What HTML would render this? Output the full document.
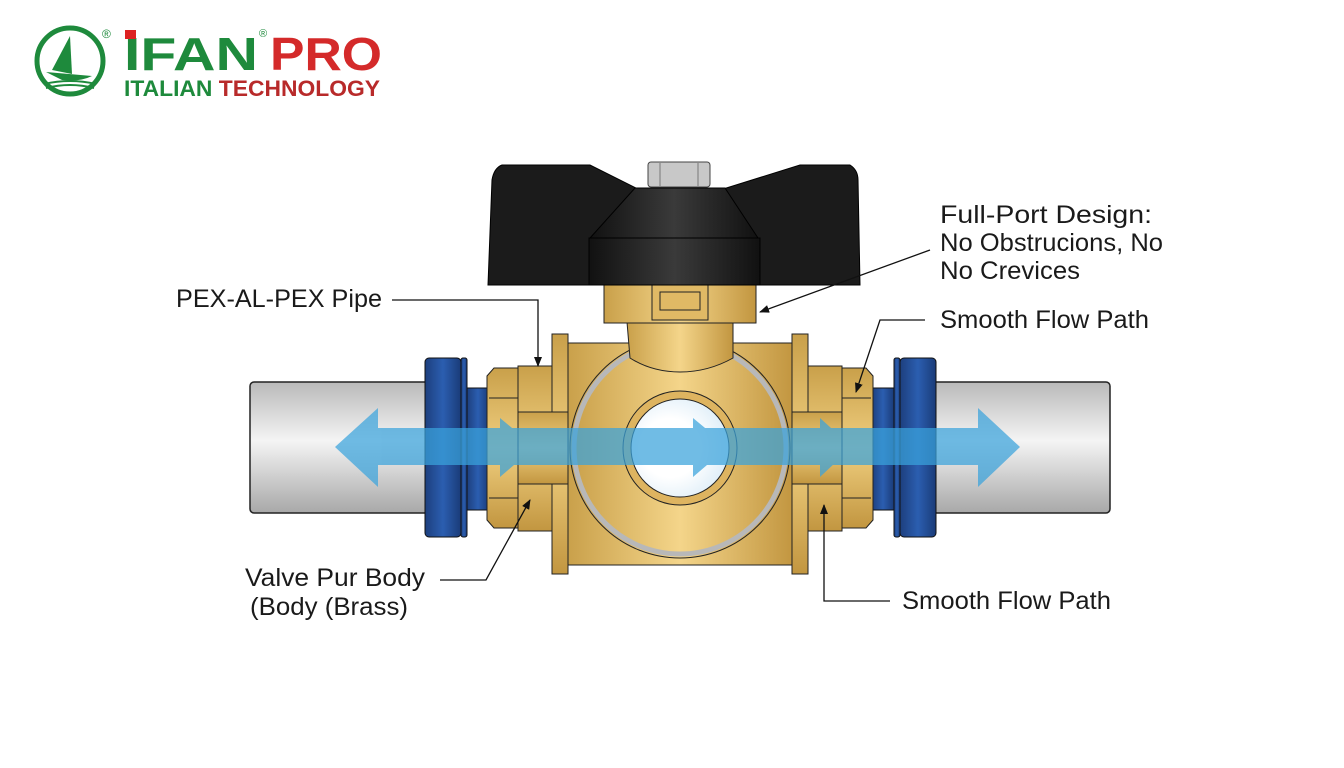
<!DOCTYPE html>
<html><head><meta charset="utf-8"><style>
html,body{margin:0;padding:0;background:#fff;width:1344px;height:768px;overflow:hidden}
svg{display:block}
text{font-family:"Liberation Sans",Arial,sans-serif}
</style></head><body>
<svg width="1344" height="768" viewBox="0 0 1344 768" xmlns="http://www.w3.org/2000/svg">
<defs>
<linearGradient id="pipe" x1="0" y1="0" x2="0" y2="1">
<stop offset="0" stop-color="#b9b9b9"/><stop offset="0.45" stop-color="#f4f4f4"/><stop offset="1" stop-color="#a8a8a8"/></linearGradient>
<linearGradient id="blue" x1="0" y1="0" x2="1" y2="0">
<stop offset="0" stop-color="#1d3f7e"/><stop offset="0.5" stop-color="#2b5eb0"/><stop offset="1" stop-color="#1a3b78"/></linearGradient>
<linearGradient id="brass" x1="0" y1="0" x2="0" y2="1">
<stop offset="0" stop-color="#c9a04a"/><stop offset="0.5" stop-color="#f0cf80"/><stop offset="1" stop-color="#c29640"/></linearGradient>
<linearGradient id="brassH" x1="0" y1="0" x2="1" y2="0">
<stop offset="0" stop-color="#c9a04a"/><stop offset="0.5" stop-color="#f4d58a"/><stop offset="1" stop-color="#c29640"/></linearGradient>
<linearGradient id="knob" x1="0" y1="0" x2="1" y2="0">
<stop offset="0" stop-color="#111"/><stop offset="0.5" stop-color="#3a3a3a"/><stop offset="1" stop-color="#111"/></linearGradient>
<radialGradient id="hole" cx="0.4" cy="0.5" r="0.6"><stop offset="0.5" stop-color="#fff"/><stop offset="1" stop-color="#dfeef8"/></radialGradient>
<marker id="ah" markerWidth="10" markerHeight="8" refX="9" refY="4" orient="auto" markerUnits="userSpaceOnUse"><path d="M0,0 L10,4 L0,8 Z" fill="#111"/></marker>
</defs>

<!-- logo -->
<circle cx="70" cy="61" r="33" fill="none" stroke="#1e8a3c" stroke-width="5"/>
<path d="M70,36 L72,74 L52,70 Z" fill="#1e8a3c"/>
<path d="M46,72 L92,76 Q80,82 62,80 Z" fill="#1e8a3c"/>
<path d="M44,84 Q70,78 96,84 M46,88 Q70,82 94,88" stroke="#1e8a3c" stroke-width="2" fill="none"/>
<text x="102" y="38" font-size="12" fill="#1e8a3c">®</text>
<text x="124" y="70" font-size="46" font-weight="bold" fill="#1e8a3c" textLength="134" lengthAdjust="spacingAndGlyphs">IFAN</text>
<rect x="125" y="30" width="11" height="9" fill="#d22"/>
<text x="259" y="37" font-size="11" fill="#1e8a3c">®</text>
<text x="270" y="70" font-size="46" font-weight="bold" fill="#d42a2a" textLength="112" lengthAdjust="spacingAndGlyphs">PRO</text>
<text x="124" y="96" font-size="22" font-weight="bold" fill="#1e8a3c" textLength="256" lengthAdjust="spacingAndGlyphs">ITALIAN <tspan fill="#b82a2a">TECHNOLOGY</tspan></text>

<!-- pipes -->
<rect x="250" y="382" width="180" height="131" rx="4" fill="url(#pipe)" stroke="#222" stroke-width="1.5"/>
<rect x="932" y="382" width="178" height="131" rx="4" fill="url(#pipe)" stroke="#222" stroke-width="1.5"/>
<!-- blue nuts -->
<rect x="425" y="358" width="36" height="179" rx="4" fill="url(#blue)" stroke="#111"/>
<rect x="461" y="358" width="6" height="179" rx="2" fill="url(#blue)" stroke="#111"/>
<rect x="467" y="388" width="22" height="122" fill="url(#blue)" stroke="#111"/>
<rect x="900" y="358" width="36" height="179" rx="4" fill="url(#blue)" stroke="#111"/>
<rect x="894" y="358" width="6" height="179" rx="2" fill="url(#blue)" stroke="#111"/>
<rect x="872" y="388" width="22" height="122" fill="url(#blue)" stroke="#111"/>

<!-- fittings -->
<path d="M494,368 L518,368 L518,528 L494,528 L487,520 L487,376 Z" fill="url(#brass)" stroke="#222"/>
<line x1="489" y1="398" x2="518" y2="398" stroke="#222"/><line x1="489" y1="498" x2="518" y2="498" stroke="#222"/>
<rect x="518" y="366" width="34" height="165" fill="url(#brass)" stroke="#222"/>
<path d="M866,368 L842,368 L842,528 L866,528 L873,520 L873,376 Z" fill="url(#brass)" stroke="#222"/>
<line x1="842" y1="398" x2="871" y2="398" stroke="#222"/><line x1="842" y1="498" x2="871" y2="498" stroke="#222"/>
<rect x="808" y="366" width="34" height="165" fill="url(#brass)" stroke="#222"/>

<!-- body -->
<rect x="567" y="343" width="226" height="222" fill="url(#brassH)" stroke="#222"/>
<rect x="552" y="334" width="16" height="240" fill="url(#brass)" stroke="#222"/>
<rect x="792" y="334" width="16" height="240" fill="url(#brass)" stroke="#222"/>
<rect x="518" y="412" width="50" height="72" fill="url(#brass)" stroke="#222"/>
<rect x="792" y="412" width="50" height="72" fill="url(#brass)" stroke="#222"/>
<circle cx="680" cy="448" r="110" fill="url(#brassH)" stroke="#222"/>
<circle cx="680" cy="448" r="106" fill="none" stroke="#b8b8b8" stroke-width="5"/>
<!-- neck -->
<path d="M627,322 L733,322 L733,358 Q708,372 680,372 Q652,372 630,358 Z" fill="url(#brassH)" stroke="#222"/>
<rect x="604" y="285" width="152" height="38" fill="url(#brassH)" stroke="#222"/>
<path d="M652,285 L708,285 L708,320 L652,320 Z M660,292 L700,292 L700,310 L660,310 Z" fill="#e0b965" stroke="#222"/>
<circle cx="680" cy="448" r="57" fill="#deb460" stroke="#222"/>
<circle cx="680" cy="448" r="49" fill="url(#hole)" stroke="#222"/>

<!-- handle -->
<path d="M502,165 L590,165 L640,190 L720,190 L800,165 L850,165 Q858,170 858,180 L860,285 L488,285 L492,180 Q494,168 502,165 Z" fill="#1b1b1b" stroke="#000"/>
<path d="M635,188 L725,188 L758,238 L590,238 Z" fill="url(#knob)" stroke="#000"/>
<rect x="589" y="238" width="171" height="47" fill="url(#knob)" stroke="#000"/>
<rect x="648" y="162" width="62" height="25" rx="3" fill="#c8c8c8" stroke="#444"/>
<line x1="660" y1="163" x2="660" y2="186" stroke="#777"/><line x1="698" y1="163" x2="698" y2="186" stroke="#777"/>

<!-- flow -->
<g fill="#3aa3dc" opacity="0.72">
<path d="M335,447 L378,408 L378,428 L980,428 L980,465 L378,465 L378,487 Z"/>
<path d="M978,408 L1020,447 L978,487 Z"/>
<path d="M693,418 L728,447 L693,477 Z"/>
<path d="M820,418 L852,447 L820,477 Z"/>
<path d="M500,418 L535,447 L500,477 Z"/>
</g>

<!-- leaders -->
<g stroke="#111" stroke-width="1.3" fill="none">
<polyline points="392,300 538,300 538,366" marker-end="url(#ah)"/>
<line x1="930" y1="250" x2="760" y2="312" marker-end="url(#ah)"/>
<polyline points="925,320 880,320 856,392" marker-end="url(#ah)"/>
<polyline points="440,580 486,580 530,500" marker-end="url(#ah)"/>
<polyline points="890,601 824,601 824,505" marker-end="url(#ah)"/>
</g>

<g font-size="25" fill="#1a1a1a">
<text x="176" y="307" textLength="206" lengthAdjust="spacingAndGlyphs">PEX-AL-PEX Pipe</text>
<text x="940" y="223" textLength="212" lengthAdjust="spacingAndGlyphs">Full-Port Design:</text>
<text x="940" y="251" textLength="223" lengthAdjust="spacingAndGlyphs">No Obstrucions, No</text>
<text x="940" y="279" textLength="140" lengthAdjust="spacingAndGlyphs">No Crevices</text>
<text x="940" y="328" textLength="209" lengthAdjust="spacingAndGlyphs">Smooth Flow Path</text>
<text x="245" y="586" textLength="180" lengthAdjust="spacingAndGlyphs">Valve Pur Body</text>
<text x="250" y="615" textLength="158" lengthAdjust="spacingAndGlyphs">(Body (Brass)</text>
<text x="902" y="609" textLength="209" lengthAdjust="spacingAndGlyphs">Smooth Flow Path</text>
</g>
</svg>
</body></html>
